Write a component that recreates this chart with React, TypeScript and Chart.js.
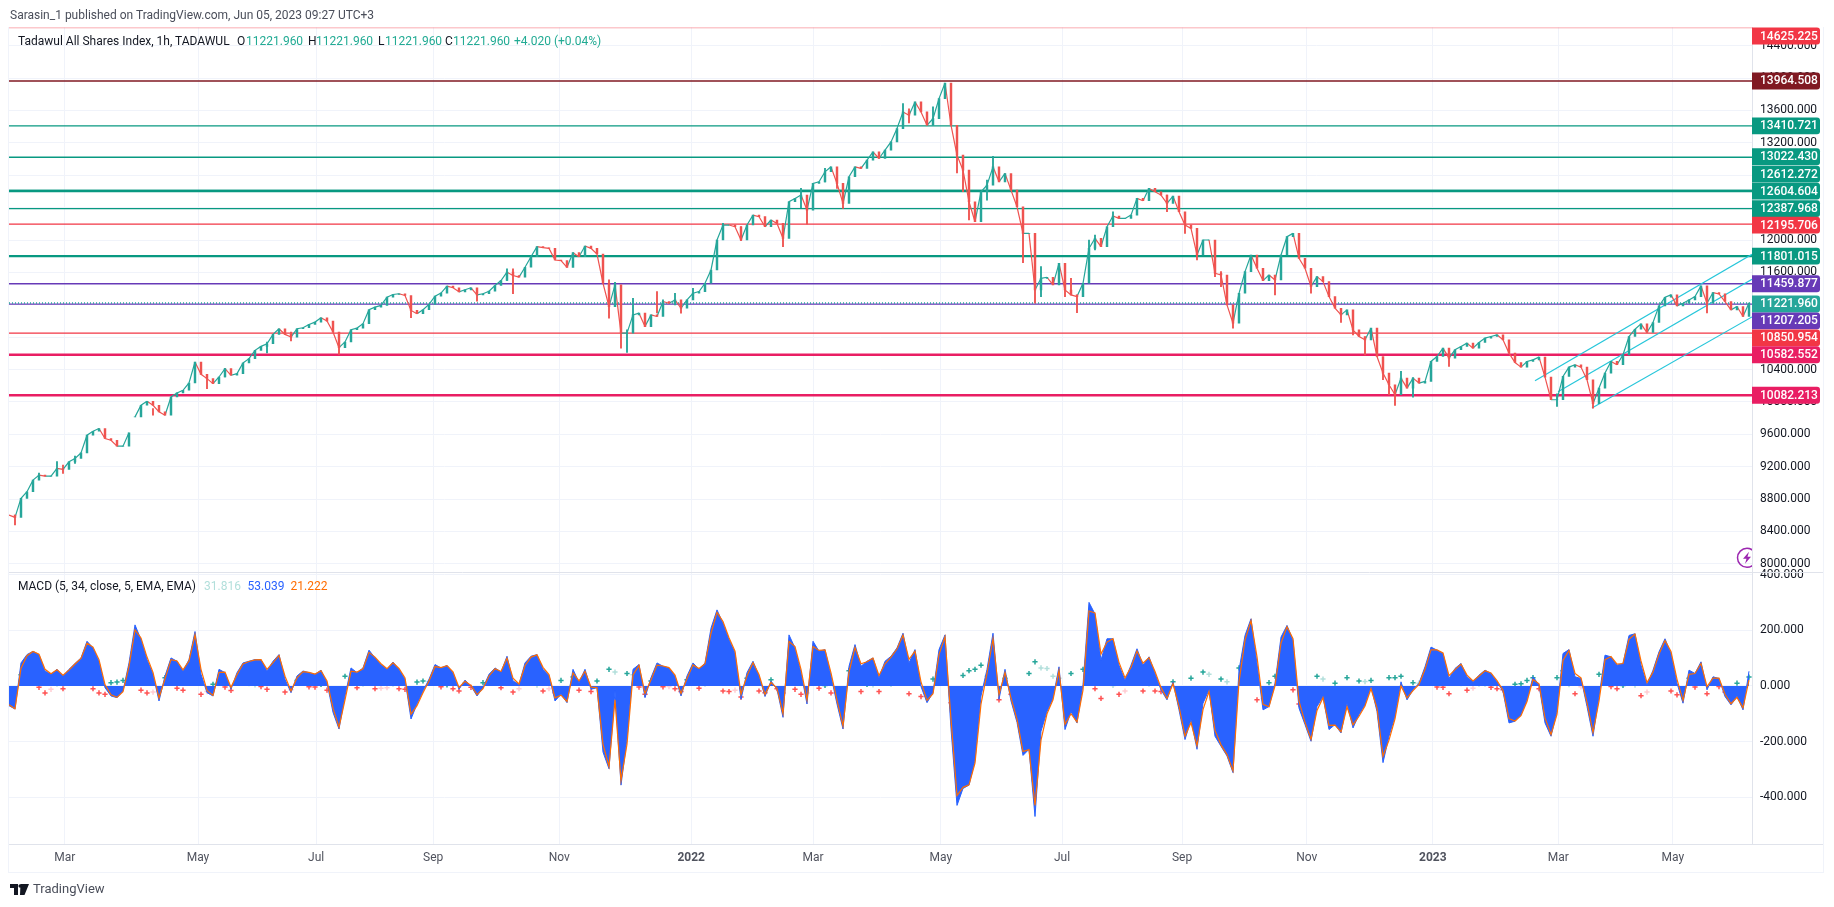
import React, { useEffect, useRef } from "react";
import { Chart, registerables } from "chart.js";

Chart.register(...registerables);

// Sampled closes of the price pane (one sample per index)
const closes = [
  8602,8574,8808,8890,9034,9096,9083,9083,9178,9166,
  9260,9301,9371,9589,9638,9671,9548,9527,9453,9453,
  9618,9815,9959,10008,9959,9877,9835,10061,10111,10144,
  10234,10493,10341,10288,10226,10308,10411,10329,10349,10481,
  10534,10637,10686,10719,10834,10904,10834,10801,10904,10916,
  10957,10986,11040,10999,10863,10670,10740,10892,10912,10966,
  11138,11171,11192,11294,11327,11336,11315,11130,11089,11138,
  11204,11307,11344,11430,11410,11360,11385,11410,11323,11336,
  11368,11438,11500,11603,11562,11541,11664,11794,11918,11905,
  11897,11753,11745,11663,11844,11794,11926,11897,11827,11466,
  11178,11445,10849,10849,11075,11096,10931,11075,11055,11240,
  11219,11260,11157,11260,11342,11363,11466,11630,12000,12185,
  12185,12164,12000,12185,12308,12288,12164,12247,12205,12021,
  12473,12514,12555,12370,12699,12719,12843,12904,12699,12452,
  12781,12904,12884,12986,13089,13007,13110,13212,13377,13582,
  13541,13706,13582,13418,13500,13747,13940,13418,13048,12863,
  12473,12226,12596,12678,12904,12719,12822,12616,12411,12082,
  12082,11383,11527,11540,11445,11712,11383,11322,11301,11466,
  11897,12021,11918,12164,12296,12267,12267,12308,12514,12485,
  12637,12596,12555,12452,12542,12349,12185,12144,11815,12000,
  12000,11589,11568,11199,10972,11342,11610,11815,11651,11499,
  11568,11507,11815,12041,12082,11774,11651,11425,11548,11486,
  11301,11157,11075,11137,10890,10808,10767,10911,10561,10356,
  10212,10089,10294,10171,10294,10233,10253,10500,10561,10664,
  10541,10644,10685,10726,10664,10734,10788,10808,10829,10767,
  10603,10487,10430,10500,10520,10553,10307,10027,10027,10315,
  10430,10459,10430,10274,9978,10171,10356,10500,10459,10582,
  10808,10898,10964,10857,10981,11186,11293,11322,11186,11219,
  11260,11301,11433,11219,11351,11334,11240,11137,11178,11055,
  11222,
];

// Wicks that stick out of the sampled closes
const wickIndex = [1,8,11,43,55,78,83,84,100,101,102,103,104,108,129,132,133,150,158,164,169,171,172,178,204,226,231,234,258,264,283,
  159,160,161,163,119,122,136,138,139,149,154,109,111,112,114,
  176,177,180,181,184,193,196,198,201,202,211,217,222,224,229,230,232,240,
  5,9,24,33,36,47,67];
const wickLow = [8479,9120,9240,10604,10587,11245,11500,11336,11034,11200,10664,10611,11000,11100,11918,12400,12197,13447,12830,12800,11720,11219,11301,11104,10911,10582,9957,10060,9945,9924,11100,
  12596,12247,12328,12493,12041,11992,12719,12637,12390,13562,13418,11157,11198,11096,11281,
  11301,11322,11815,11877,12226,12349,12082,11753,11548,11425,11322,11342,10981,10829,10274,10089,10089,10438,
  9040,9116,9835,10164,10308,10752,11040];
const wickHigh = [8602,9262,9330,10740,10700,11340,11644,11644,11507,11478,10993,10890,11281,11363,12021,12637,12420,13620,13295,13035,12123,11671,11671,11320,11150,10800,10120,10300,10100,10050,11350,
  12925,12555,12450,12740,12206,12165,12884,12781,12534,13685,13644,11260,11342,11219,11404,
  11630,11527,12000,12062,12349,12555,12226,11959,11836,11610,11507,11548,11137,10952,10438,10315,10377,10561,
  9120,9219,9918,10308,10411,10863,11171];

// MACD pane
const macdValues = [
  -71,-83,83,113,125,113,54,42,60,36,
  60,81,101,161,137,89,-6,-36,-42,-18,
  83,220,167,95,42,-54,36,101,89,54,
  95,196,42,-24,-36,60,48,-12,48,83,
  89,95,95,54,89,113,24,-24,36,54,
  48,42,57,12,-95,-155,-36,65,48,65,
  129,101,77,60,86,60,24,-119,-65,-18,
  24,77,65,74,48,-12,21,0,-36,-6,
  42,65,50,107,18,6,83,107,113,60,
  38,-54,-30,-60,60,12,60,-12,-6,-238,
  -298,-18,-357,-190,60,77,-42,30,83,71,
  65,36,-36,36,83,60,83,208,274,226,
  167,119,-48,48,89,36,-38,18,-12,-113,
  184,137,48,-65,161,125,131,36,-65,-155,
  71,149,71,89,101,30,89,107,137,190,
  83,131,-2,-60,-24,131,184,-155,-430,-369,
  -357,-268,-36,60,190,-48,60,-54,-131,-250,
  -228,-470,-163,-92,-44,69,-157,-92,-133,4,
  301,259,93,170,170,75,21,75,134,75,
  105,45,-14,-50,15,-86,-193,-121,-228,-62,
  -14,-181,-217,-252,-312,57,182,242,81,-86,
  -74,10,176,218,164,-80,-139,-199,-74,-38,
  -157,-139,-169,-62,-151,-103,-68,-2,-92,-276,
  -181,-109,15,-50,-14,10,69,140,129,117,
  27,63,81,33,15,39,57,45,15,-20,
  -133,-127,-104,-50,33,4,-133,-181,-92,117,
  131,33,27,-74,-181,-38,111,105,75,81,
  182,188,75,4,57,123,170,117,10,-62,
  57,45,87,-14,33,27,-38,-68,-38,-86,
  53,
];
const signalValues = [
  -68,-82,64,109,124,114,60,44,58,39,
  57,79,99,154,140,95,5,-32,-41,-21,
  71,202,173,104,49,-43,26,95,90,58,
  90,184,60,-16,-34,49,50,-5,41,79,
  88,94,95,60,84,110,35,-18,29,52,
  49,43,55,18,-80,-148,-50,53,50,62,
  121,104,80,62,83,63,29,-102,-71,-24,
  18,70,66,73,51,-5,17,2,-31,-10,
  36,62,52,100,28,7,73,104,112,67,
  41,-43,-33,-56,47,18,53,-4,-6,-210,
  -290,-50,-340,-210,40,74,-27,22,75,72,
  66,39,-27,27,76,63,80,190,265,232,
  174,125,-30,37,84,41,-30,13,-8,-100,
  160,142,60,-50,142,128,130,47,-52,-144,
  50,138,80,87,100,38,80,104,133,183,
  96,125,15,-52,-28,113,177,-120,-395,-365,
  -356,-278,-65,45,170,-30,48,-43,-120,-236,
  -229,-430,-195,-100,-50,55,-138,-100,-130,-15,
  270,263,115,158,170,85,29,67,126,82,
  102,52,-6,-45,8,-74,-180,-132,-215,-85,
  -20,-160,-212,-247,-306,15,165,235,105,-66,
  -75,0,155,213,170,-55,-131,-192,-88,-42,
  -142,-141,-165,-75,-140,-109,-72,-10,-80,-253,
  -195,-118,0,-43,-17,6,60,130,130,119,
  37,59,78,39,18,36,55,47,19,-15,
  -117,-126,-107,-56,23,8,-115,-175,-102,92,
  128,45,29,-60,-167,-55,95,106,79,81,
  168,187,90,12,50,115,163,124,24,-52,
  42,45,81,-2,28,28,-30,-64,-41,-79,
  21,
];
const histValues = [
  -20,-15,40,35,20,-5,-25,-12,8,-10,
  10,15,15,30,-10,-25,-30,12,14,20,
  40,45,-15,-25,-22,-18,30,25,-8,-15,
  12,35,-30,-20,6,22,-4,-16,14,12,
  8,4,-2,-12,12,14,-22,-14,20,10,
  -3,-4,6,-15,-30,-20,35,30,-6,8,
  22,-10,-8,-6,8,-10,-12,-30,14,18,
  16,16,-3,4,-10,-18,10,-5,-12,12,
  16,10,-6,18,-22,-10,24,10,3,-18,
  -10,-24,20,-15,32,-15,15,-20,18,-35,
  60,50,-30,45,40,-4,-30,18,16,-3,
  -2,-10,-20,22,18,-8,8,40,25,-18,
  -20,-15,-40,28,12,-18,-24,22,-10,-25,
  50,-12,-30,-25,42,-8,2,-25,-22,-20,
  55,30,-20,6,4,-20,20,6,10,16,
  -28,14,-38,-18,25,40,18,-60,-45,38,
  55,60,75,35,35,-50,28,-30,-20,-30,
  45,87,65,63,35,28,-40,45,-15,60,
  55,-10,-45,25,2,-30,-18,18,18,-18,
  8,-18,-20,-12,15,-30,-35,28,-22,50,
  42,-40,25,15,-25,65,40,20,-50,-45,
  12,35,45,12,-14,-65,-20,-20,35,25,
  -35,10,-12,30,-25,18,16,20,-25,-45,
  30,30,35,-18,12,10,18,25,-4,-5,
  -28,12,8,-15,-8,8,7,-5,-10,-14,
  -35,6,8,20,30,-10,-40,-15,30,55,
  5,-28,-3,-30,-30,42,40,-2,-10,2,
  30,3,-35,-22,15,22,16,-18,-32,-25,
  28,-4,14,-28,14,-2,-22,-10,10,-15,
  32,
];

// Horizontal levels and their axis tags
const levelValues = [14625.225,13964.508,13410.721,13022.43,12612.272,12604.604,12387.968,12195.706,11801.015,11459.877,11221.96,11207.205,10850.954,10582.552,10082.213];

// Rising channel: [index, price] of each end
const channelUpper = [[254.33,10261],[290.5,11824]];
const channelMiddle = [[258.17,10125],[290.5,11515]];
const channelLower = [[263.83,9924],[290.5,11050]];

// Axes
const priceTicks = [14400,14000,13600,13200,12800,12400,12000,11600,11200,10800,10400,10000,9600,9200,8800,8400,8000];
const macdTicks = [400,200,0,-200,-400];
const monthTickIndex = [9.3,31.5,51.2,70.7,91.7,113.7,134,155.3,175.5,195.5,216.3,237.3,258.2,277.3];
const monthLabels = ["Mar","May","Jul","Sep","Nov","2022","Mar","May","Jul","Sep","Nov","2023","Mar","May"];

const GREEN = "#089981", RED = "#f23645", DARKRED = "#801922", PURPLE = "#673ab7", PINK = "#e91e63", TEAL = "#26a69a", CYAN = "#26c6da";
const UP = "#26a69a", DOWN = "#ef5350", GRID = "#f0f3fa", AXIS = "#e0e3eb", TEXT = "#131722";
const FONT = "Roboto, sans-serif";
const levelColors = [RED,DARKRED,GREEN,GREEN,GREEN,GREEN,GREEN,RED,GREEN,PURPLE,TEAL,PURPLE,RED,PINK,PINK];
const levelWidths = [1.3,1.3,1.3,1.3,1.3,2.4,1.3,1.3,2.4,1.3,1.3,1.3,1.3,2.4,2.4];
const levelShift = [8.5,0,0,-0.5,-16.3,0,0,1,0,0,1,16.7,4.8,0,0];
const X_END = 290.5;

const overlay = {
  id: "overlay",
  beforeDatasetsDraw(chart: any) {
    const { ctx, scales } = chart;
    ctx.save();
    ctx.strokeStyle = AXIS;
    ctx.lineWidth = 1;
    const y = Math.round(scales.y.bottom) + 0.5;
    ctx.beginPath();
    ctx.moveTo(9, y);
    ctx.lineTo(1823, y);
    ctx.stroke();
    const yb = Math.round(scales.y2.bottom) + 0.5;
    ctx.beginPath();
    ctx.moveTo(9, yb);
    ctx.lineTo(1823, yb);
    ctx.stroke();
    ctx.restore();
  },
  afterDraw(chart: any) {
    const { ctx, scales, chartArea } = chart;
    ctx.save();
    // bolt badge, cut by the axis edge
    ctx.save();
    ctx.beginPath();
    ctx.rect(chartArea.right - 40, scales.y.bottom - 30, 40, 30);
    ctx.clip();
    ctx.strokeStyle = "#9c27b0";
    ctx.lineWidth = 1.5;
    ctx.beginPath();
    ctx.arc(chartArea.right - 5, scales.y.bottom - 14, 9.5, 0, Math.PI * 2);
    ctx.stroke();
    ctx.fillStyle = "#9c27b0";
    const bx = chartArea.right - 5, by = scales.y.bottom - 14;
    ctx.beginPath();
    ctx.moveTo(bx + 2, by - 6);
    ctx.lineTo(bx - 4, by + 1);
    ctx.lineTo(bx - 0.5, by + 1);
    ctx.lineTo(bx - 2, by + 6);
    ctx.lineTo(bx + 4, by - 1);
    ctx.lineTo(bx + 0.5, by - 1);
    ctx.closePath();
    ctx.fill();
    ctx.restore();
    // price tags
    ctx.font = `500 12px ${FONT}`;
    ctx.textBaseline = "middle";
    ctx.textAlign = "left";
    levelValues.forEach((v, i) => {
      const y = scales.y.getPixelForValue(v) + levelShift[i];
      ctx.fillStyle = levelColors[i];
      ctx.beginPath();
      ctx.roundRect(chartArea.right, y - 8.4, 68, 16.8, [0, 3, 3, 0]);
      ctx.fill();
      ctx.fillStyle = "#ffffff";
      ctx.fillText(v.toFixed(3), chartArea.right + 8, y + 0.5);
    });
    ctx.restore();
  },
};

export default function App() {
  const ref = useRef<HTMLCanvasElement | null>(null);
  useEffect(() => {
    if (!ref.current) return;
    const levelSets = levelValues.map((v, i) => ({
      type: "line",
      yAxisID: "y",
      data: [{ x: 0, y: v }, { x: X_END, y: v }],
      borderColor: i === 0 ? "rgba(242,54,69,0.55)" : levelColors[i],
      borderWidth: levelWidths[i],
      borderDash: i === 10 ? [1, 2] : [],
      pointRadius: 0,
      order: 5,
    }));
    const channelSets = [channelUpper, channelMiddle, channelLower].map((c) => ({
      type: "line",
      yAxisID: "y",
      data: c.map(([x, y]) => ({ x, y })),
      borderColor: CYAN,
      borderWidth: 1.2,
      pointRadius: 0,
      order: 4,
    }));
    const GAP = 20;
    const chart = new Chart(ref.current, {
      type: "line",
      data: {
        datasets: [
          ...levelSets,
          ...channelSets,
          {
            type: "bar",
            yAxisID: "y",
            grouped: false,
            barThickness: 1.2,
            data: wickIndex.map((x, i) => ({ x, y: [wickLow[i], wickHigh[i]] })),
            backgroundColor: wickIndex.map((x) => (closes[x] >= closes[x - 1] ? UP : DOWN)),
            order: 3,
          },
          {
            type: "line",
            yAxisID: "y",
            data: closes.map((y, x) => ({ x, y })),
            borderWidth: 1.2,
            pointRadius: 0,
            borderColor: UP,
            segment: {
              borderColor: (c: any) =>
                c.p0DataIndex === GAP ? "rgba(0,0,0,0)" : c.p1.parsed.y >= c.p0.parsed.y ? UP : DOWN,
            },
            order: 2,
          },
          {
            type: "bar",
            yAxisID: "y",
            grouped: false,
            barThickness: 1.8,
            data: closes.slice(1).map((y, i) => ({ x: i + 1, y: i === GAP ? [y, y] : [closes[i], y] })),
            backgroundColor: closes.slice(1).map((y, i) => (y >= closes[i] ? UP : DOWN)),
            order: 1,
          },
          {
            type: "line",
            yAxisID: "y2",
            data: histValues.map((y, x) => ({ x, y })),
            showLine: false,
            pointStyle: "cross",
            pointRadius: 2.6,
            pointBorderWidth: 1.5,
            pointBorderColor: histValues.map((h, i) => {
              const rising = i === 0 || h >= histValues[i - 1];
              return h >= 0 ? (rising ? "#26a69a" : "#b2dfdb") : rising ? "#ffcdd2" : "#ff5252";
            }),
            order: 8,
          },
          {
            type: "line",
            yAxisID: "y2",
            data: macdValues.map((y, x) => ({ x, y })),
            fill: "origin",
            backgroundColor: "#2962ff",
            borderColor: "#2962ff",
            borderWidth: 1,
            pointRadius: 0,
            order: 7,
          },
          {
            type: "line",
            yAxisID: "y2",
            data: signalValues.map((y, x) => ({ x, y })),
            borderColor: "#ff6d00",
            borderWidth: 1.2,
            pointRadius: 0,
            order: 6,
          },
        ],
      } as any,
      options: {
        responsive: false,
        animation: false,
        events: [],
        layout: { padding: { left: 9, top: 27.5, right: 11, bottom: 35 } },
        plugins: { legend: { display: false }, tooltip: { enabled: false } },
        scales: {
          x: {
            type: "linear",
            min: 0,
            max: X_END,
            offset: false,
            grid: { color: GRID, drawTicks: false, offset: false },
            border: { display: true, color: AXIS },
            afterBuildTicks: (s: any) => {
              s.ticks = monthTickIndex.map((value) => ({ value }));
            },
            afterFit: (s: any) => {
              s.height = 28;
            },
            ticks: {
              autoSkip: false,
              maxRotation: 0,
              padding: 7,
              color: "#50535e",
              font: (c: any) => ({
                family: FONT,
                size: 12,
                weight: /^\d+$/.test(String(monthLabels[c.index])) ? "bold" : "normal",
              }),
              callback: (_v: any, i: number) => monthLabels[i],
            },
          },
          y: {
            type: "linear",
            position: "right",
            stack: "panes",
            stackWeight: 2,
            weight: 1,
            min: 7901,
            max: 14625.225,
            grid: { color: GRID, drawTicks: false },
            border: { display: true, color: AXIS },
            afterBuildTicks: (s: any) => {
              s.ticks = priceTicks.map((value) => ({ value }));
            },
            afterFit: (s: any) => {
              s.width = 71;
            },
            ticks: {
              autoSkip: false,
              padding: 8,
              color: TEXT,
              font: { family: FONT, size: 12 },
              callback: (v: any) => Number(v).toFixed(3),
            },
          },
          y2: {
            type: "linear",
            position: "right",
            stack: "panes",
            stackWeight: 1,
            weight: 2,
            min: -569,
            max: 411,
            grid: { color: GRID, drawTicks: false },
            border: { display: true, color: AXIS },
            afterBuildTicks: (s: any) => {
              s.ticks = macdTicks.map((value) => ({ value }));
            },
            afterFit: (s: any) => {
              s.width = 71;
            },
            ticks: {
              autoSkip: false,
              padding: 8,
              color: TEXT,
              font: { family: FONT, size: 12 },
              callback: (v: any) => Number(v).toFixed(3),
            },
          },
        },
      } as any,
      plugins: [overlay],
    });
    return () => chart.destroy();
  }, []);

  const label = (left: number, top: number, text: string, color: string, size = 12) => (
    <span
      style={{
        position: "absolute",
        left,
        top,
        color,
        fontSize: size,
        lineHeight: "16px",
        whiteSpace: "pre",
      }}
    >
      {text}
    </span>
  );

  const V = "#22ab94";
  return (
    <div style={{ position: "fixed", left: 0, top: 0, width: 1834, height: 907, background: "#fff", fontFamily: FONT, overflow: "hidden" }}>
      <canvas ref={ref} width={1834} height={907} style={{ position: "absolute", left: 0, top: 0 }} />
      <div style={{ position: "absolute", left: 8, top: 27, width: 1814, height: 845, border: "1px solid #f0f3fa", borderTop: "none", pointerEvents: "none" }} />
      {label(10, 7, "Sarasin_1 published on TradingView.com, Jun 05, 2023 09:27 UTC+3", "#4a4e5a", 12)}
      {label(18, 33, "Tadawul All Shares Index, 1h, TADAWUL", TEXT)}
      {label(237, 33, "O", TEXT)}
      {label(246, 33, "11221.960", V)}
      {label(308, 33, "H", TEXT)}
      {label(316, 33, "11221.960", V)}
      {label(378, 33, "L", TEXT)}
      {label(385, 33, "11221.960", V)}
      {label(445, 33, "C", TEXT)}
      {label(453, 33, "11221.960", V)}
      {label(514, 33, "+4.020 (+0.04%)", V)}
      {label(18, 578, "MACD (5, 34, close, 5, EMA, EMA)", TEXT)}
      {label(204, 578, "31.816", "#b2dfdb")}
      {label(247.5, 578, "53.039", "#2962ff")}
      {label(290.5, 578, "21.222", "#ff6d00")}
      <svg style={{ position: "absolute", left: 10, top: 884 }} width="19" height="11" viewBox="0 0 19 11">
        <path d="M0 0h8v11H4V4H0z M10.5 0h8.5l-4.5 11H10z" fill="#131722" />
        <circle cx="10.2" cy="2" r="1.8" fill="#131722" />
      </svg>
      {label(33, 881, "TradingView", "#4a4e5a", 13)}
    </div>
  );
}
